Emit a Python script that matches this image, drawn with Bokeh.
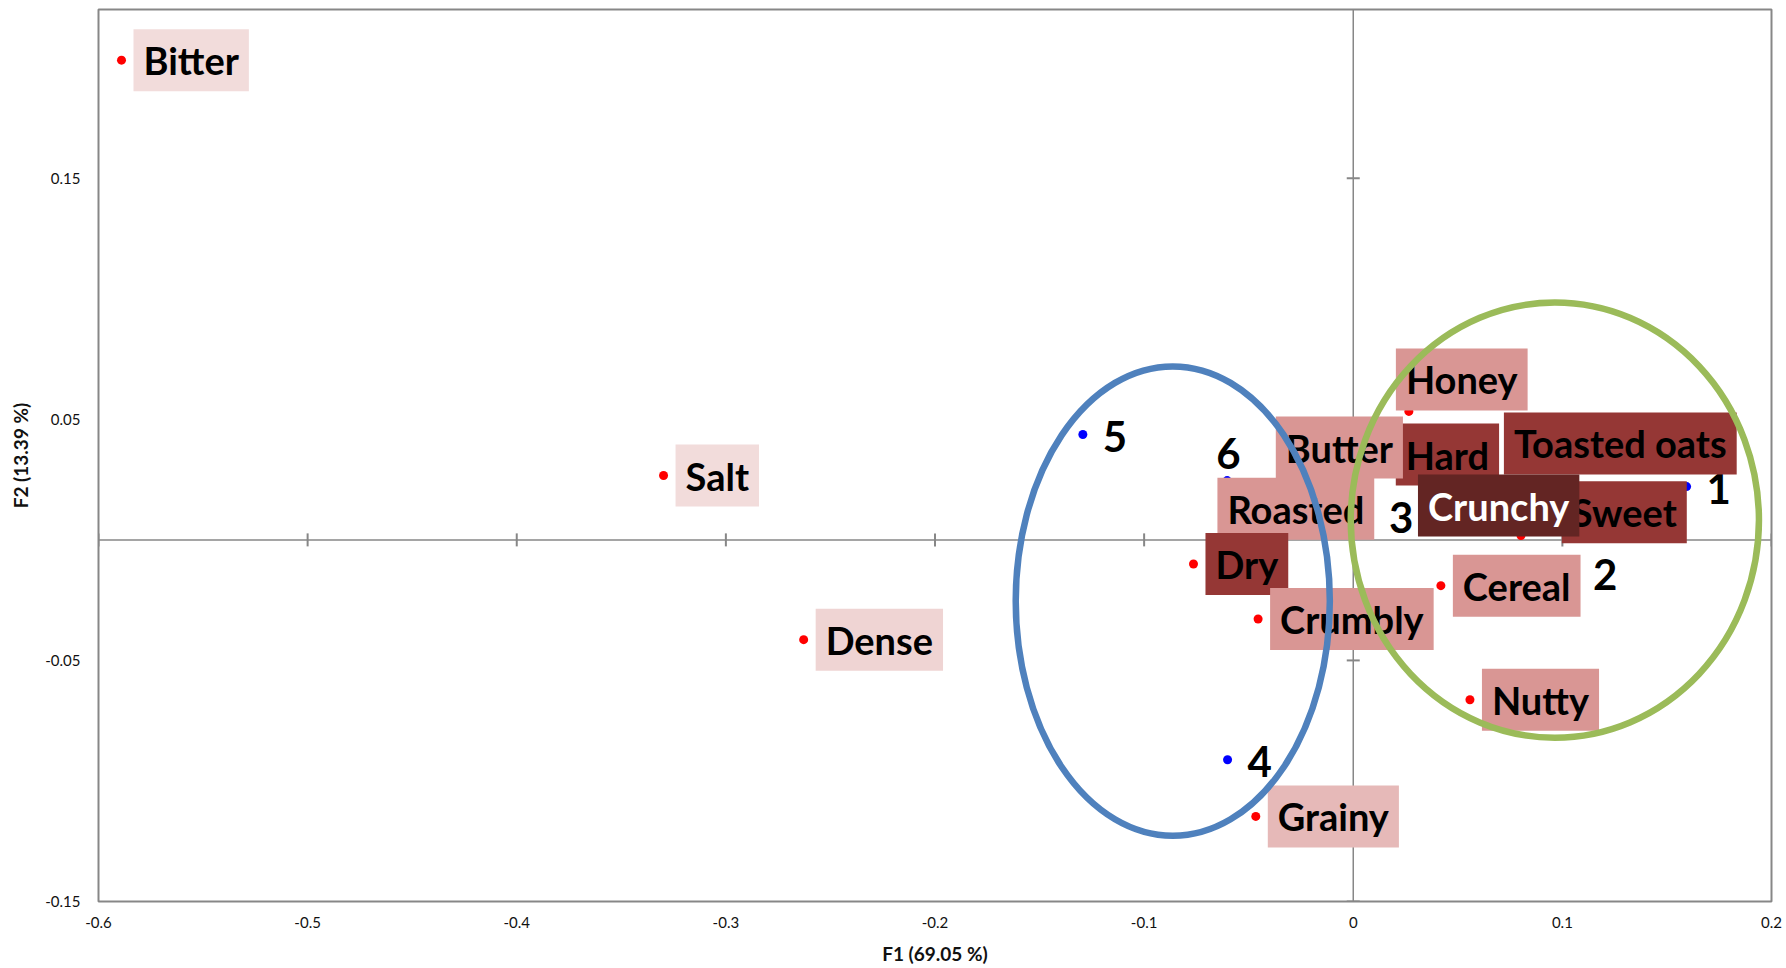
import math
from bokeh.plotting import figure
from bokeh.models import ColumnDataSource, FixedTicker, Span
from bokeh.core.properties import value
from bokeh.embed import file_html
from bokeh.resources import INLINE

# ---- data: attributes (variables) on F1 / F2 ----
attr_names = ["Honey", "Toasted oats", "Hard", "Butter", "Sweet", "Roasted", "Dry",
              "Crumbly", "Cereal", "Nutty", "Grainy", "Crunchy", "Bitter", "Salt", "Dense"]
attr_f1 = [0.0266, 0.0663, 0.0146, -0.005, 0.0940, -0.020, -0.0764,
           -0.0455, 0.0419, 0.0558, -0.0466, 0.0802, -0.589, -0.3298, -0.2628]
attr_f2 = [0.0533, 0.0400, 0.0354, 0.030, 0.0115, 0.015, -0.0100,
           -0.0328, -0.0190, -0.0663, -0.1147, 0.0018, 0.199, 0.0267, -0.0414]

# ---- data: products ----
prod_names = ["1", "2", "3", "4", "5", "6"]
prod_f1 = [0.1594, 0.1051, 0.0075, -0.0601, -0.1293, -0.0603]
prod_f2 = [0.0221, -0.0136, 0.0101, -0.0912, 0.0437, 0.0246]

# ---- group ellipses (centre, width, height in F1/F2 units) ----
ell_cx = [0.0964, -0.0863]
ell_cy = [0.0082, -0.0254]
ell_w = [0.1952, 0.1502]
ell_h = [0.1806, 0.1947]

# ---- axis ticks ----
x_ticks = [-0.6, -0.5, -0.4, -0.3, -0.2, -0.1, 0, 0.1, 0.2]
y_ticks = [-0.15, -0.05, 0.05, 0.15]

# ---- styles ----
LIGHT, PALE, MID, DARK, DARKEST = "#F2DCDB", "#E6B9B8", "#D99694", "#953735", "#632523"
attr_fill = [MID, DARK, DARK, MID, DARK, MID, DARK, MID, MID, MID, PALE, DARKEST, LIGHT, LIGHT, "#EFD4D3"]
attr_tcol = ["black"] * 11 + ["white"] + ["black"] * 3
# box left edge offset (px) and vertical offset of the box centre (px, down)
attr_dx = [-13, 12, 12, -67, 12, -94, 12, 12, 12, 12, 12, -103, 12, 12, 12]
attr_dy = [-32, 0, 0, -20, 0, 5, 0, 0, 0, 0, 0, -30, 0, 0, 0]
prod_dx = [20, 20, 20, 20, 20, -11]
prod_dy = [2, 2, 2, 2, 2, -27]

GRID = "#878787"
FONT = "Lato"

p = figure(width=1786, height=968, x_range=(-0.6, 0.2), y_range=(-0.15, 0.22),
           output_backend="svg", toolbar_location=None,
           min_border_left=98, min_border_right=15, min_border_top=9, min_border_bottom=67)
p.background_fill_color = "white"
p.border_fill_color = "white"
p.grid.visible = False
p.outline_line_color = GRID
p.outline_line_width = 2

for ax in (p.xaxis[0], p.yaxis[0]):
    ax.axis_line_color = None
    ax.major_tick_line_color = None
    ax.minor_tick_line_color = None
    ax.major_tick_out = 0
    ax.major_tick_in = 0
    ax.major_label_text_font = FONT
    ax.major_label_text_font_size = "15px"
    ax.major_label_text_color = "#111111"
    ax.axis_label_text_font = FONT
    ax.axis_label_text_font_style = "bold"
    ax.axis_label_text_font_size = "19px"
    ax.axis_label_text_color = "#111111"

p.xaxis.ticker = FixedTicker(ticks=x_ticks)
p.yaxis.ticker = FixedTicker(ticks=y_ticks)
p.xaxis.major_label_overrides = {-0.6: "-0.6", -0.5: "-0.5", -0.4: "-0.4", -0.3: "-0.3",
                                 -0.2: "-0.2", -0.1: "-0.1", 0: "0", 0.1: "0.1", 0.2: "0.2"}
p.yaxis.major_label_overrides = {-0.15: "-0.15", -0.05: "-0.05", 0.05: "0.05", 0.15: "0.15"}
p.xaxis.axis_label = "F1 (69.05 %)"
p.yaxis.axis_label = "F2 (13.39 %)"
p.xaxis.major_label_standoff = 15
p.yaxis.major_label_standoff = 18
p.xaxis.axis_label_standoff = 11
p.yaxis.axis_label_standoff = 10

# origin lines
p.add_layout(Span(location=0, dimension="height", line_color=GRID, line_width=1.5, level="underlay"))
p.add_layout(Span(location=0, dimension="width", line_color=GRID, line_width=1.5, level="underlay"))
# cross tick marks on the origin axes
p.scatter(x=x_ticks, y=[0] * len(x_ticks), marker="dash", size=13, angle=math.pi / 2,
          line_color=GRID, line_width=2)
p.scatter(x=[0] * len(y_ticks), y=y_ticks, marker="dash", size=13,
          line_color=GRID, line_width=2)

# points
p.scatter(attr_f1, attr_f2, size=9, fill_color="#FF0000", line_color=None)
p.scatter(prod_f1, prod_f2, size=9, fill_color="#0000FF", line_color=None)

# product labels
psrc = ColumnDataSource(dict(x=prod_f1, y=prod_f2, t=prod_names, dx=prod_dx, dy=prod_dy))
p.text(x="x", y="y", text="t", source=psrc, x_offset="dx", y_offset="dy",
       text_font=value(FONT), text_font_style="bold", text_font_size="42px",
       text_color="black", text_align="left", text_baseline="middle")

# attribute labels with boxes
asrc = ColumnDataSource(dict(x=attr_f1, y=attr_f2, t=attr_names, dx=attr_dx, dy=attr_dy,
                             fill=attr_fill, tc=attr_tcol))
p.text(x="x", y="y", text="t", source=asrc, x_offset="dx", y_offset="dy",
       text_font=value(FONT), text_font_style="bold", text_font_size="38px",
       text_color="tc", text_align="left", text_baseline="middle",
       background_fill_color="fill", padding=(10, 8))

# group ellipses
p.ellipse(x=ell_cx, y=ell_cy, width=ell_w, height=ell_h, fill_color=None,
          line_color=["#9BBB59", "#4F81BD"], line_width=6.5)

open("out.html", "w").write(file_html(p, INLINE))
